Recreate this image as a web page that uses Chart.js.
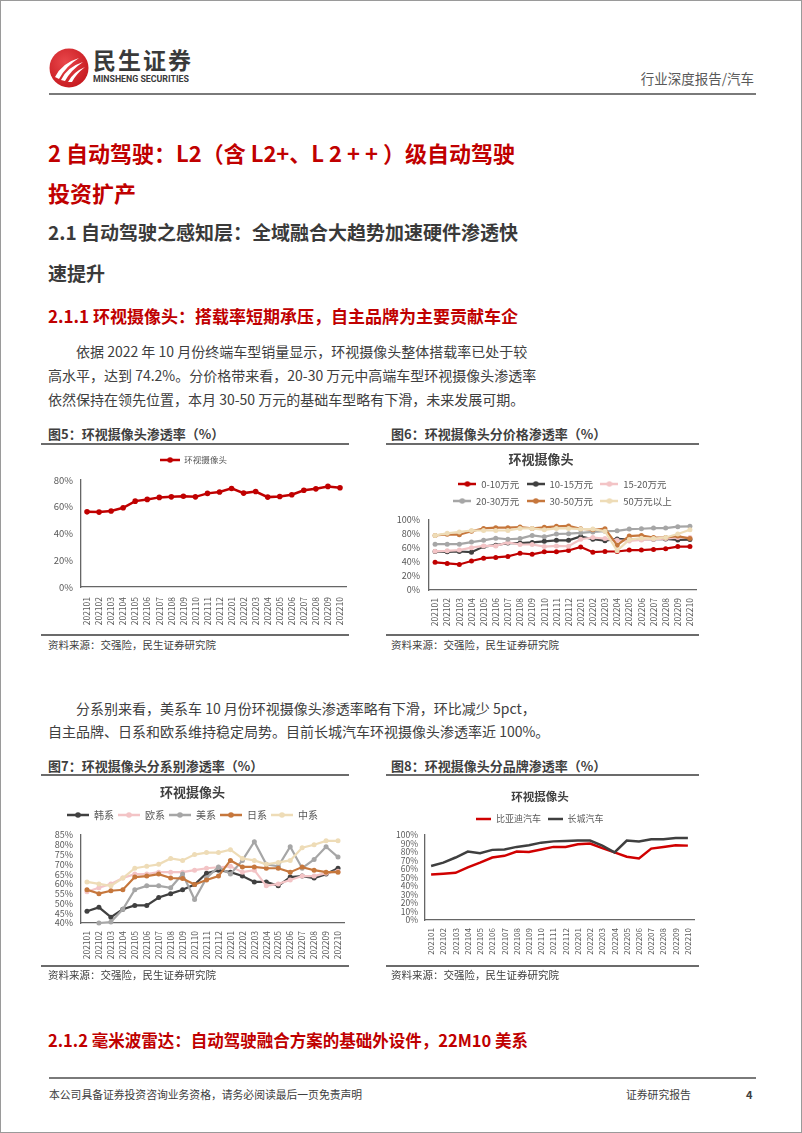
<!DOCTYPE html>
<html><head><meta charset="utf-8">
<script src="https://cdn.jsdelivr.net/npm/chart.js@4.4.0/dist/chart.umd.min.js"></script>
<style>
html,body{margin:0;padding:0;background:#fff;}
#page{position:relative;width:802px;height:1133px;overflow:hidden;font-family:'Noto Sans CJK SC',sans-serif;box-sizing:border-box;border:1px solid #9a9a9a;}
.t{position:absolute;white-space:nowrap;line-height:1;color:#404040;}
.j{text-align:justify;text-align-last:justify;}
.ln{position:absolute;background:#6b6b6b;height:1.5px;}
canvas{position:absolute;}
.red{color:#c00000;font-weight:bold;}
.h2{color:#3a3a3a;font-weight:bold;}
.cap{font-size:13px;font-weight:bold;color:#3f3f3f;}
.src{font-size:10.5px;color:#404040;}
.p{font-size:14px;color:#404040;}
</style></head><body><div id="page">

<svg style="position:absolute;left:48px;top:47px" width="40" height="40" viewBox="0 0 40 40">
<defs><radialGradient id="lg" cx="40%" cy="35%" r="75%"><stop offset="0" stop-color="#e9474b"/><stop offset="1" stop-color="#c3151b"/></radialGradient></defs>
<circle cx="20" cy="20" r="19.5" fill="url(#lg)"/>
<path d="M6 29 Q13 15 30 10 Q17 18 10 31 Z" fill="#fff"/>
<path d="M12 32 Q18 19 34 14 Q22 22 16 33 Z" fill="#fff"/>
<path d="M19 34 Q24 24 36 19 Q27 26 23 34 Z" fill="#fff"/>
</svg>
<div class="t" style="left:92px;top:47px;font-size:23px;font-weight:bold;color:#3a3a3a;letter-spacing:2px;">民生证券</div>
<div class="t" style="left:92px;top:73.8px;font-size:8.8px;font-weight:bold;color:#3a3a3a;font-family:Roboto,sans-serif;">MINSHENG SECURITIES</div>
<div class="t" style="right:47px;top:70.6px;font-size:13.5px;color:#595959;">行业深度报告/汽车</div>
<div class="ln" style="left:48px;top:92px;width:707px;background:#7a7a7a;"></div>

<div class="t red" style="left:47px;top:140px;font-size:22px;">2 自动驾驶：L2（含 L2+、L 2 + + ）级自动驾驶</div>
<div class="t red" style="left:47px;top:180px;font-size:22px;">投资扩产</div>
<div class="t h2" style="left:47px;top:220.5px;font-size:19px;">2.1 自动驾驶之感知层：全域融合大趋势加速硬件渗透快</div>
<div class="t h2" style="left:47px;top:261.5px;font-size:19px;">速提升</div>
<div class="t red" style="left:47px;top:305.6px;font-size:17px;">2.1.1 环视摄像头：搭载率短期承压，自主品牌为主要贡献车企</div>

<div class="t p j" style="left:75px;top:343.3px;width:447px;">依据 2022 年 10 月份终端车型销量显示，环视摄像头整体搭载率已处于较</div>
<div class="t p j" style="left:47px;top:367.3px;width:475px;">高水平，达到 74.2%。分价格带来看，20-30 万元中高端车型环视摄像头渗透率</div>
<div class="t p" style="left:47px;top:391.3px;">依然保持在领先位置，本月 30-50 万元的基础车型略有下滑，未来发展可期。</div>

<div class="t cap" style="left:47px;top:425.9px;">图5：环视摄像头渗透率（%）</div>
<div class="t cap" style="left:390px;top:425.9px;">图6：环视摄像头分价格渗透率（%）</div>
<div class="ln" style="left:40px;top:442px;width:308px;"></div>
<div class="ln" style="left:385px;top:442px;width:313px;"></div>
<canvas id="c5" width="330" height="185" style="left:40px;top:447px;"></canvas>
<canvas id="c6" width="330" height="185" style="left:385px;top:447px;"></canvas>
<div class="ln" style="left:40px;top:633px;width:308px;"></div>
<div class="ln" style="left:385px;top:633px;width:313px;"></div>
<div class="t src" style="left:47px;top:639.2px;">资料来源：交强险，民生证券研究院</div>
<div class="t src" style="left:390px;top:639.2px;">资料来源：交强险，民生证券研究院</div>

<div class="t p" style="left:75px;top:700.3px;">分系别来看，美系车 10 月份环视摄像头渗透率略有下滑，环比减少 5pct，</div>
<div class="t p" style="left:47px;top:723.3px;">自主品牌、日系和欧系维持稳定局势。目前长城汽车环视摄像头渗透率近 100%。</div>

<div class="t cap" style="left:47px;top:757.9px;">图7：环视摄像头分系别渗透率（%）</div>
<div class="t cap" style="left:390px;top:757.9px;">图8：环视摄像头分品牌渗透率（%）</div>
<div class="ln" style="left:40px;top:773px;width:308px;"></div>
<div class="ln" style="left:385px;top:773px;width:313px;"></div>
<canvas id="c7" width="330" height="187" style="left:40px;top:778px;"></canvas>
<canvas id="c8" width="330" height="187" style="left:385px;top:778px;"></canvas>
<div class="ln" style="left:40px;top:964px;width:308px;"></div>
<div class="ln" style="left:385px;top:964px;width:313px;"></div>
<div class="t src" style="left:47px;top:969.2px;">资料来源：交强险，民生证券研究院</div>
<div class="t src" style="left:390px;top:969.2px;">资料来源：交强险，民生证券研究院</div>

<div class="t red" style="left:47px;top:1031px;font-size:16.5px;">2.1.2 毫米波雷达：自动驾驶融合方案的基础外设件，22M10 美系</div>

<div class="ln" style="left:48px;top:1076px;width:707px;background:#7a7a7a;"></div>
<div class="t" style="left:48px;top:1088px;font-size:10.8px;">本公司具备证券投资咨询业务资格，请务必阅读最后一页免责声明</div>
<div class="t" style="left:625px;top:1088px;font-size:10.8px;">证券研究报告</div>
<div class="t" style="left:745px;top:1088px;font-size:11px;font-weight:bold;">4</div>
</div>

<script>
// ---- data ----
const months = ['202101','202102','202103','202104','202105','202106','202107','202108','202109','202110','202111','202112','202201','202202','202203','202204','202205','202206','202207','202208','202209','202210'];

const overall = [56.2, 56.0, 56.8, 59.2, 64.2, 65.5, 67.0, 67.4, 67.9, 67.4, 70.0, 71.0, 73.7, 70.2, 71.4, 67.2, 67.7, 69.0, 72.3, 73.4, 75.2, 74.2];

const band0_10   = [39.5, 38, 36.5, 41.5, 45.5, 46.5, 48, 52.5, 51, 54.5, 54.5, 56.5, 61.5, 54, 55, 55, 57, 57, 58, 59, 62, 62];
const band10_15  = [55, 54.5, 55, 54, 62, 64, 67, 67, 68, 69.5, 71, 71, 76.5, 72.5, 70.5, 73, 72, 72.5, 72.5, 73, 71.5, 72];
const band15_20  = [55.5, 56, 57, 60.5, 63, 63, 68, 65, 65, 62, 63, 62.5, 72.5, 75, 73.5, 71, 70, 71.5, 72.5, 73.5, 75, 75];
const band20_30  = [65.5, 65.5, 65.5, 68.5, 71, 74, 72.5, 73.5, 78, 76, 80, 80.5, 81.5, 83, 84, 84.5, 87, 87.5, 88.5, 88.5, 90.5, 91];
const band30_50  = [78, 79.5, 79, 84, 88, 89, 89, 90, 88, 89.5, 91, 91.5, 87.5, 86, 87.5, 64, 77, 78, 75, 75, 77, 73.5];
const band50plus = [78, 81, 83, 85, 85, 85, 85, 88, 88, 86, 88, 88, 87, 87, 84, 56, 72, 74, 73.5, 75, 80, 86];

const korean   = [46, 48, 43, 47, 49, 49, 53, 55, 57, 59.7, 65.5, 67, 66, 64, 61, 61, 59, 63.5, 64, 63, 65, 68];
const european = [56, 58, 60, 63, 65, 65, 66, 66, 66, 67, 68, 68.5, 69, 66, 67, 59, 60, 62, 64, 64, 65.5, 66.5];
const american = [null, 40, 40.5, 47, 57, 59, 59, 58, 65, 52, 63, 68.7, 65, 72, 81.6, 70, 69, 79, 68, 72.5, 79, 73.7];
const japanese = [57, 55, 56.5, 57, 63.5, 64, 65, 63, 62.7, 59.7, 62, 64, 72, 68.7, 68.7, 68, 68, 66, 68.6, 67, 66, 66];
const chinese  = [61, 60, 59, 63, 68, 69, 70, 73, 72, 75, 76, 76, 77.5, 73, 72, 70, 71, 72, 78.5, 80, 82, 82];

const byd       = [53.5, 54.5, 55.5, 62, 67.5, 73.5, 75.5, 80.5, 80, 83, 86, 86, 89, 90, 84.5, 79.5, 74.5, 72.5, 84, 86, 88, 87.5];
const greatWall = [63.5, 67.5, 73.5, 80.5, 78.5, 82.5, 83, 86, 88, 91, 92.5, 93, 93.5, 93.5, 87.5, 79.5, 93.5, 92.5, 95, 95, 96.5, 96.5];

const ticks5 = [0, 20, 40, 60, 80];
const ticks6 = [0, 20, 40, 60, 80, 100];
const ticks7 = [40, 45, 50, 55, 60, 65, 70, 75, 80, 85];
const ticks8 = [0, 10, 20, 30, 40, 50, 60, 70, 80, 90, 100];

// ---- styling ----
const RED = '#c00000', DARK = '#404040', PINK = '#f3c4c6', GRAY = '#a6a6a6', BROWN = '#c6773c', BEIGE = '#eedcb7';

Chart.defaults.font.family = "'Noto Sans CJK SC', sans-serif";
Chart.defaults.color = '#595959';
Chart.defaults.animation = false;

function marker(color, w, dot) {
  const c = document.createElement('canvas'); c.width = w; c.height = 8;
  const g = c.getContext('2d');
  g.strokeStyle = color; g.lineWidth = 2.5;
  g.beginPath(); g.moveTo(0, 4); g.lineTo(w, 4); g.stroke();
  if (dot) { g.fillStyle = color; g.beginPath(); g.arc(w / 2, 4, 2.8, 0, Math.PI * 2); g.fill(); }
  return c;
}

function build(id, o) {
  const n = o.series.length;
  const ds = o.series.map((s, i) => ({
    label: s.name, data: s.data, borderColor: s.color, backgroundColor: s.color,
    borderWidth: o.lw, pointRadius: o.pr, pointHoverRadius: o.pr, pointBorderWidth: 0,
    pointBackgroundColor: s.color, tension: 0, clip: false, order: n - i
  }));
  const axisBorder = { display: true, color: '#666666', width: 1.3 };
  return new Chart(document.getElementById(id), {
    type: 'line',
    data: { labels: months, datasets: ds },
    options: {
      responsive: false, animation: false, events: [],
      layout: { padding: { top: 0, left: 0, bottom: 0, right: o.padR } },
      plugins: {
        tooltip: { enabled: false },
        title: o.title ? { display: true, text: o.title, color: '#404040', font: { size: o.titleSize, weight: 'bold' }, padding: { top: o.pt, bottom: o.pb } } : { display: false },
        subtitle: { display: true, text: '', font: { size: 1 }, padding: { top: o.spacer, bottom: 0 }, weight: 500 },
        legend: {
          display: true, position: 'top', fullSize: o.legendFull, align: 'center',
          labels: {
            usePointStyle: true, pointStyleWidth: o.boxW, boxHeight: 6, padding: o.lp,
            color: '#595959', font: { size: o.lfs },
            generateLabels: ch => ch.data.datasets.map((d, i) => ({
              text: d.label, pointStyle: marker(d.borderColor, o.boxW, o.dots),
              fillStyle: d.borderColor, strokeStyle: d.borderColor, lineWidth: 0,
              hidden: false, datasetIndex: i, fontColor: '#595959'
            }))
          }
        }
      },
      scales: {
        x: {
          type: 'category', offset: true,
          grid: { display: false, drawTicks: false }, border: axisBorder,
          ticks: { autoSkip: false, minRotation: 90, maxRotation: 90, padding: o.xpad, color: '#595959', font: { size: o.xfs } },
          afterFit: s => { s.height = o.xh; }
        },
        y: {
          type: 'linear', min: o.ticks[0], max: o.ticks[o.ticks.length - 1],
          grid: { display: false, drawTicks: false }, border: axisBorder,
          ticks: { autoSkip: false, padding: o.ypad, color: '#595959', font: { size: o.yfs }, callback: v => v + '%' },
          afterBuildTicks: s => { s.ticks = o.ticks.map(v => ({ value: v })); },
          afterFit: s => { s.width = o.yw; }
        }
      }
    }
  });
}

build('c5', {
  series: [{ name: '环视摄像头', data: overall, color: RED }],
  ticks: ticks5, lw: 2.5, pr: 2.8, padR: 25, yw: 40, xh: 46, ypad: 8, xpad: 10, xfs: 8.5, yfs: 9.5,
  title: null, legendFull: true, lfs: 8.5, lp: 7.75, boxW: 20, dots: true, spacer: 4.55
});
build('c6', {
  series: [
    { name: '0-10万元', data: band0_10, color: RED },
    { name: '10-15万元', data: band10_15, color: DARK },
    { name: '15-20万元', data: band15_20, color: PINK },
    { name: '20-30万元', data: band20_30, color: GRAY },
    { name: '30-50万元', data: band30_50, color: BROWN },
    { name: '50万元以上', data: band50plus, color: BEIGE }
  ],
  ticks: ticks6, lw: 2.2, pr: 2.5, padR: 20, yw: 43, xh: 43, ypad: 9, xpad: 8, xfs: 8.5, yfs: 9,
  title: '环视摄像头', titleSize: 13, pt: 3.2, pb: 4.95,
  legendFull: false, lfs: 9.5, lp: 7.5, boxW: 18, dots: true, spacer: 3.05
});
build('c7', {
  series: [
    { name: '韩系', data: korean, color: DARK },
    { name: '欧系', data: european, color: PINK },
    { name: '美系', data: american, color: GRAY },
    { name: '日系', data: japanese, color: BROWN },
    { name: '中系', data: chinese, color: BEIGE }
  ],
  ticks: ticks7, lw: 2.2, pr: 2.5, padR: 27, yw: 40, xh: 43, ypad: 8, xpad: 8, xfs: 8.5, yfs: 9,
  title: '环视摄像头', titleSize: 13, pt: 5.2, pb: 6.2,
  legendFull: true, lfs: 10, lp: 4, boxW: 22, dots: true, spacer: 3.8
});
build('c8', {
  series: [
    { name: '比亚迪汽车', data: byd, color: '#d00000' },
    { name: '长城汽车', data: greatWall, color: '#3f3f3f' }
  ],
  ticks: ticks8, lw: 2.5, pr: 0, padR: 22, yw: 39, xh: 46, ypad: 7, xpad: 8, xfs: 8, yfs: 8.5,
  title: '环视摄像头', titleSize: 11.5, pt: 11.1, pb: 3.6,
  legendFull: true, lfs: 9, lp: 7, boxW: 15, dots: false, spacer: 0.3
});
</script>
</body></html>
